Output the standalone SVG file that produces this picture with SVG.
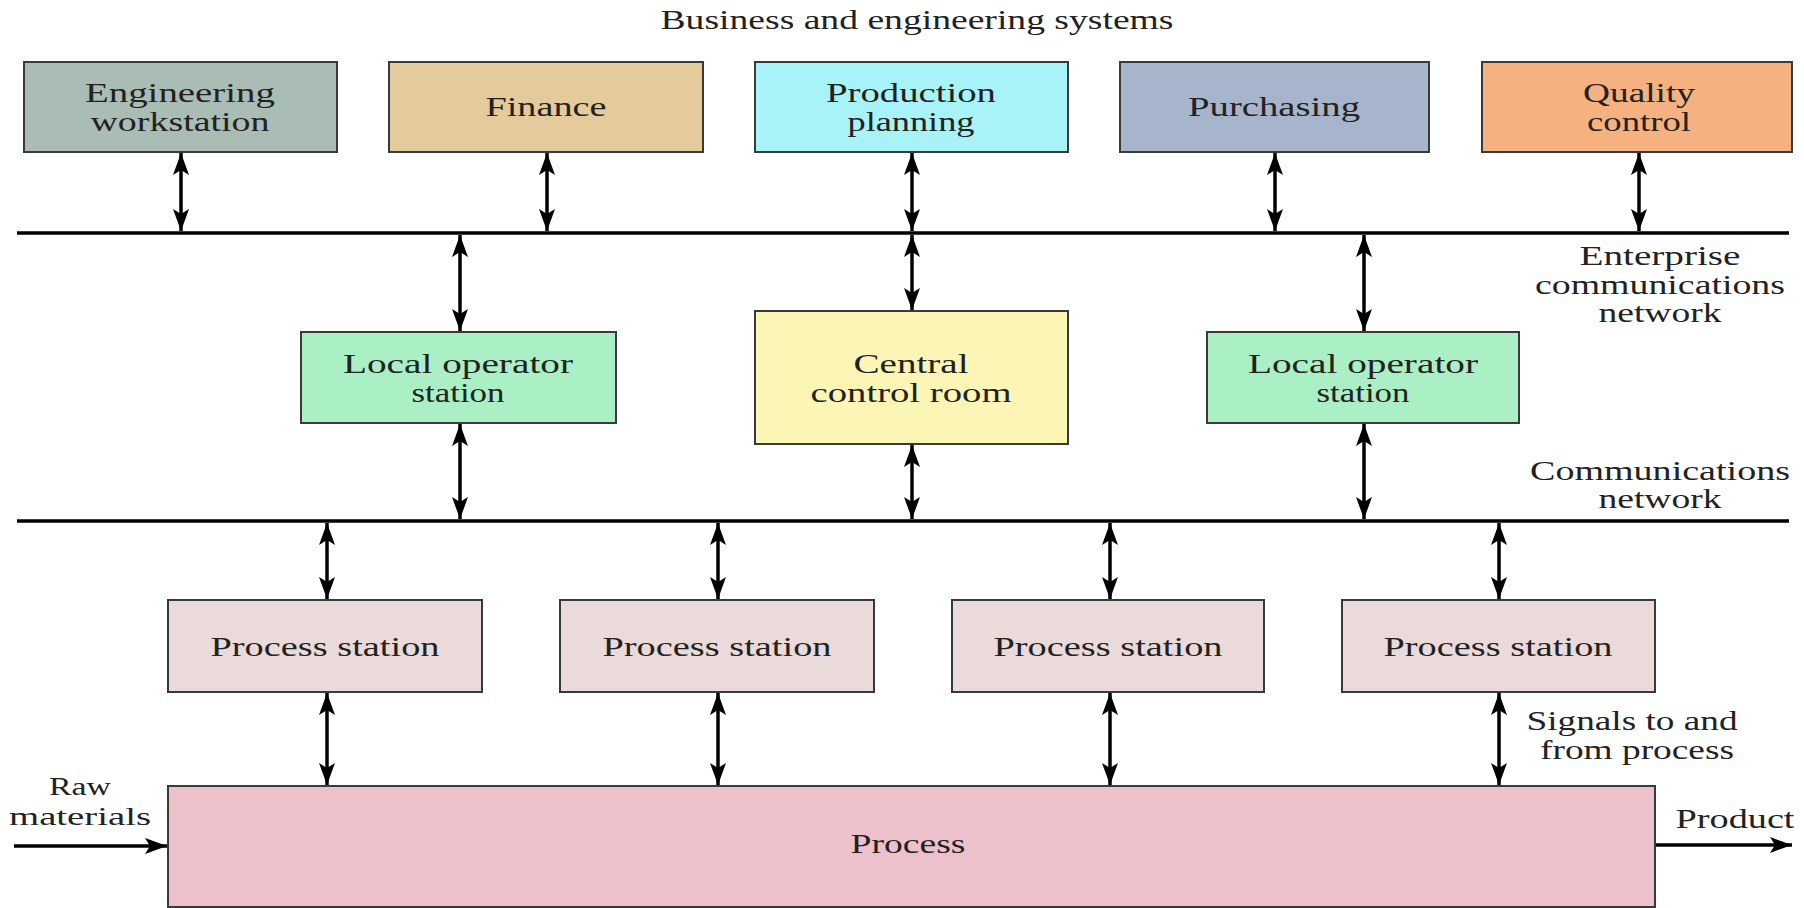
<svg xmlns="http://www.w3.org/2000/svg" width="1804" height="908" viewBox="0 0 1804 908">
  <defs>
    <marker id="ah" viewBox="0 0 22 16" refX="22" refY="8" markerWidth="22" markerHeight="16" markerUnits="userSpaceOnUse" orient="auto-start-reverse">
      <path d="M0,0 L22,8 L0,16 L5,8 z" fill="#000"/>
    </marker>
    <style>
      .box { stroke: #3a3a3a; stroke-width: 2; }
      .t { font-family: "Liberation Serif", "Times New Roman", serif; font-size: 27px; fill: #222; text-anchor: middle; }
      .s { font-size: 25px; }
      .bus { stroke: #000; stroke-width: 3.5; }
      .ar { stroke: #000; stroke-width: 3.5; fill: none; marker-start: url(#ah); marker-end: url(#ah); }
      .ar1 { stroke: #000; stroke-width: 3.5; fill: none; marker-end: url(#ah); }
    </style>
  </defs>
  <rect width="1804" height="908" fill="#fff"/>

  <text class="t" x="917" y="29" textLength="513" lengthAdjust="spacingAndGlyphs">Business and engineering systems</text>

  <g id="engineering-workstation">
    <rect class="box" x="24" y="62" width="313" height="90" fill="#a9bdb4"/>
    <text class="t" x="180" y="102" textLength="190" lengthAdjust="spacingAndGlyphs">Engineering</text>
    <text class="t" x="180" y="131" textLength="179" lengthAdjust="spacingAndGlyphs">workstation</text>
  </g>
  <g id="finance">
    <rect class="box" x="389" y="62" width="314" height="90" fill="#e3cb9c"/>
    <text class="t" x="546" y="116" textLength="121" lengthAdjust="spacingAndGlyphs">Finance</text>
  </g>
  <g id="production-planning">
    <rect class="box" x="755" y="62" width="313" height="90" fill="#a8f3f8"/>
    <text class="t" x="911" y="102" textLength="170" lengthAdjust="spacingAndGlyphs">Production</text>
    <text class="t" x="911" y="131" textLength="127" lengthAdjust="spacingAndGlyphs">planning</text>
  </g>
  <g id="purchasing">
    <rect class="box" x="1120" y="62" width="309" height="90" fill="#a6b4cc"/>
    <text class="t" x="1274" y="116" textLength="172" lengthAdjust="spacingAndGlyphs">Purchasing</text>
  </g>
  <g id="quality-control">
    <rect class="box" x="1482" y="62" width="310" height="90" fill="#f5b17f"/>
    <text class="t" x="1639" y="102" textLength="112" lengthAdjust="spacingAndGlyphs">Quality</text>
    <text class="t" x="1639" y="131" textLength="104" lengthAdjust="spacingAndGlyphs">control</text>
  </g>

  <g id="enterprise-network">
    <line class="bus" x1="17" y1="233" x2="1789" y2="233"/>
    <text class="t" x="1660" y="265" textLength="161" lengthAdjust="spacingAndGlyphs">Enterprise</text>
    <text class="t" x="1660" y="294" textLength="250" lengthAdjust="spacingAndGlyphs">communications</text>
    <text class="t" x="1660" y="322" textLength="123" lengthAdjust="spacingAndGlyphs">network</text>
  </g>

  <g id="local-operator-left">
    <rect class="box" x="301" y="332" width="315" height="91" fill="#aaf0c4"/>
    <text class="t" x="458" y="373" textLength="230" lengthAdjust="spacingAndGlyphs">Local operator</text>
    <text class="t" x="458" y="402" textLength="93" lengthAdjust="spacingAndGlyphs">station</text>
  </g>
  <g id="central-control-room">
    <rect class="box" x="755" y="311" width="313" height="133" fill="#fbf5b6"/>
    <text class="t" x="911" y="373" textLength="115" lengthAdjust="spacingAndGlyphs">Central</text>
    <text class="t" x="911" y="402" textLength="201" lengthAdjust="spacingAndGlyphs">control room</text>
  </g>
  <g id="local-operator-right">
    <rect class="box" x="1207" y="332" width="312" height="91" fill="#aaf0c4"/>
    <text class="t" x="1363" y="373" textLength="230" lengthAdjust="spacingAndGlyphs">Local operator</text>
    <text class="t" x="1363" y="402" textLength="93" lengthAdjust="spacingAndGlyphs">station</text>
  </g>

  <g id="communications-network">
    <line class="bus" x1="17" y1="521" x2="1789" y2="521"/>
    <text class="t" x="1660" y="480" textLength="260" lengthAdjust="spacingAndGlyphs">Communications</text>
    <text class="t" x="1660" y="508" textLength="123" lengthAdjust="spacingAndGlyphs">network</text>
  </g>

  <g id="process-station-1">
    <rect class="box" x="168" y="600" width="314" height="92" fill="#eadada"/>
    <text class="t" x="325" y="656" textLength="229" lengthAdjust="spacingAndGlyphs">Process station</text>
  </g>
  <g id="process-station-2">
    <rect class="box" x="560" y="600" width="314" height="92" fill="#eadada"/>
    <text class="t" x="717" y="656" textLength="229" lengthAdjust="spacingAndGlyphs">Process station</text>
  </g>
  <g id="process-station-3">
    <rect class="box" x="952" y="600" width="312" height="92" fill="#eadada"/>
    <text class="t" x="1108" y="656" textLength="229" lengthAdjust="spacingAndGlyphs">Process station</text>
  </g>
  <g id="process-station-4">
    <rect class="box" x="1342" y="600" width="313" height="92" fill="#eadada"/>
    <text class="t" x="1498" y="656" textLength="229" lengthAdjust="spacingAndGlyphs">Process station</text>
  </g>

  <g id="process">
    <rect class="box" x="168" y="786" width="1487" height="121" fill="#ecc1cc"/>
    <text class="t" x="908" y="853" textLength="115" lengthAdjust="spacingAndGlyphs" fill="#3a2a2e">Process</text>
  </g>

  <g id="labels">
    <text class="t" x="1632" y="730" textLength="211" lengthAdjust="spacingAndGlyphs">Signals to and</text>
    <text class="t" x="1637" y="759" textLength="194" lengthAdjust="spacingAndGlyphs">from process</text>
    <text class="t s" x="80" y="795" textLength="62" lengthAdjust="spacingAndGlyphs">Raw</text>
    <text class="t s" x="80" y="825" textLength="142" lengthAdjust="spacingAndGlyphs">materials</text>
    <text class="t" x="1735" y="828" textLength="119" lengthAdjust="spacingAndGlyphs">Product</text>
  </g>

  <g id="connectors">
    <line class="ar" x1="181" y1="153" x2="181" y2="231"/>
    <line class="ar" x1="547" y1="153" x2="547" y2="231"/>
    <line class="ar" x1="912" y1="153" x2="912" y2="231"/>
    <line class="ar" x1="1275" y1="153" x2="1275" y2="231"/>
    <line class="ar" x1="1639" y1="153" x2="1639" y2="231"/>

    <line class="ar" x1="460" y1="235" x2="460" y2="331"/>
    <line class="ar" x1="912" y1="235" x2="912" y2="310"/>
    <line class="ar" x1="1364" y1="235" x2="1364" y2="331"/>

    <line class="ar" x1="460" y1="424" x2="460" y2="519"/>
    <line class="ar" x1="912" y1="445" x2="912" y2="519"/>
    <line class="ar" x1="1364" y1="424" x2="1364" y2="519"/>

    <line class="ar" x1="327" y1="523" x2="327" y2="599"/>
    <line class="ar" x1="718" y1="523" x2="718" y2="599"/>
    <line class="ar" x1="1110" y1="523" x2="1110" y2="599"/>
    <line class="ar" x1="1499" y1="523" x2="1499" y2="599"/>

    <line class="ar" x1="327" y1="693" x2="327" y2="785"/>
    <line class="ar" x1="718" y1="693" x2="718" y2="785"/>
    <line class="ar" x1="1110" y1="693" x2="1110" y2="785"/>
    <line class="ar" x1="1499" y1="693" x2="1499" y2="785"/>

    <line class="ar1" x1="14" y1="846" x2="167" y2="846"/>
    <line class="ar1" x1="1656" y1="845" x2="1792" y2="845"/>
  </g>
</svg>
